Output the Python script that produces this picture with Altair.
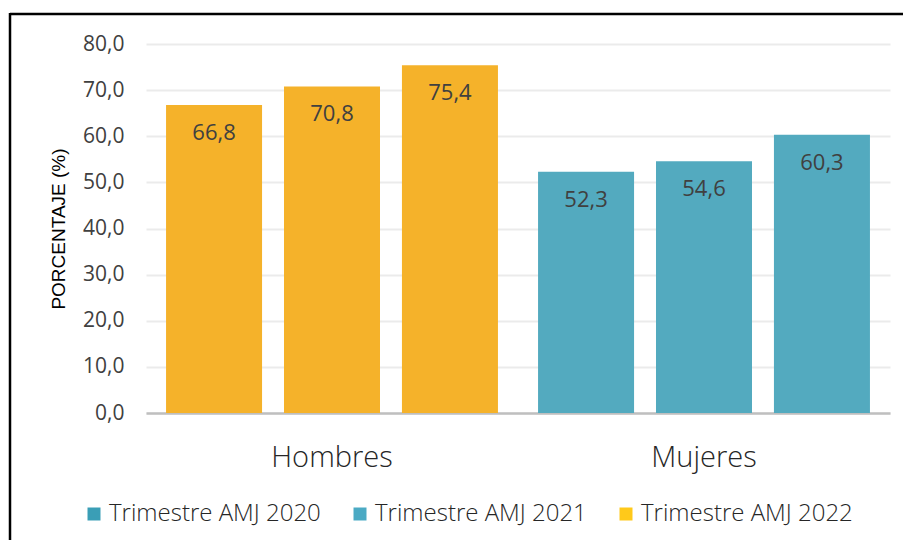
import altair as alt
import pandas as pd

# ---- data ----
groups = ["Hombres", "Mujeres"]
periods = ["Trimestre AMJ 2020", "Trimestre AMJ 2021", "Trimestre AMJ 2022"]
hombres = [66.8, 70.8, 75.4]
mujeres = [52.3, 54.6, 60.3]
group_colors = {"Hombres": "#F5B22A", "Mujeres": "#53AABF"}
legend_colors = ["#3A9EB6", "#4BAAC4", "#FFC91A"]
y_ticks = [0, 10, 20, 30, 40, 50, 60, 70, 80]

rows = []
for g, vals in zip(groups, [hombres, mujeres]):
    for p, v in zip(periods, vals):
        rows.append({"grupo": g, "periodo": p, "valor": v,
                     "fill": group_colors[g],
                     "label": f"{v:.1f}".replace(".", ",")})
df = pd.DataFrame(rows)

FONT = "Open Sans"
W, H = 744, 369
PAD_R, PAD_B = 13, 127

base = alt.Chart(df).encode(
    x=alt.X("grupo:N", sort=groups, title=None,
            scale=alt.Scale(paddingInner=0, paddingOuter=0),
            axis=alt.Axis(labelAngle=0, labelFontSize=29, labelFont=FONT,
                          labelFontWeight=300, labelColor="#262626",
                          labelPadding=30, ticks=False,
                          domainColor="#BFBFBF", domainWidth=2.5)),
    xOffset=alt.XOffset("periodo:N", sort=periods,
                        scale=alt.Scale(paddingInner=0.186, paddingOuter=0.17)),
)

bars = base.mark_bar().encode(
    y=alt.Y("valor:Q", title="PORCENTAJE (%)",
            scale=alt.Scale(domain=[0, 80], nice=False),
            axis=alt.Axis(values=y_ticks, labelExpr="replace(format(datum.value, '.1f'), '.', ',')",
                          labelFontSize=21, labelFont=FONT, labelColor="#404040",
                          labelPadding=22, ticks=False, domain=False,
                          gridColor="#EBEBEB", gridWidth=2,
                          titleFont="Liberation Sans", titleFontSize=19, titleFontWeight="normal",
                          titleColor="#000000", titlePadding=14)),
    fill=alt.Fill("fill:N", scale=None),
)

labels = base.mark_text(baseline="middle", dy=28, fontSize=22, font=FONT,
                        color="#404040").encode(
    y=alt.Y("valor:Q"),
    text="label:N",
)

legend_layer = base.mark_square(opacity=0).encode(
    y=alt.Y("valor:Q"),
    color=alt.Color("periodo:N", sort=periods,
                    scale=alt.Scale(domain=periods, range=legend_colors),
                    legend=alt.Legend(title=None, orient="none", legendX=-64, legendY=458,
                                      direction="horizontal", columns=3,
                                      symbolType="square", symbolSize=169,
                                      symbolOpacity=1, symbolStrokeWidth=0,
                                      labelFont=FONT, labelFontSize=24, labelLimit=0,
                                      labelFontWeight=300, labelColor="#262626",
                                      labelOffset=3, columnPadding=27)),
)

frame_df = pd.DataFrame({"a": [0]})
top_line = alt.Chart(frame_df).mark_rule(color="#000000", strokeWidth=2.5).encode(
    x=alt.value(-136), x2=alt.value(W + PAD_R), y=alt.value(-30),
)
left_line = alt.Chart(frame_df).mark_rule(color="#000000", strokeWidth=2.5).encode(
    x=alt.value(-136), y=alt.value(-31), y2=alt.value(H + PAD_B),
)

chart = alt.layer(bars, labels, legend_layer, top_line, left_line).properties(
    width=W, height=H,
    autosize=alt.AutoSizeParams(type="none"),
    padding={"left": 138, "top": 36, "right": PAD_R, "bottom": PAD_B},
).configure_view(stroke=None)

chart.save("out.html", embed_options={"renderer": "svg", "actions": False})
